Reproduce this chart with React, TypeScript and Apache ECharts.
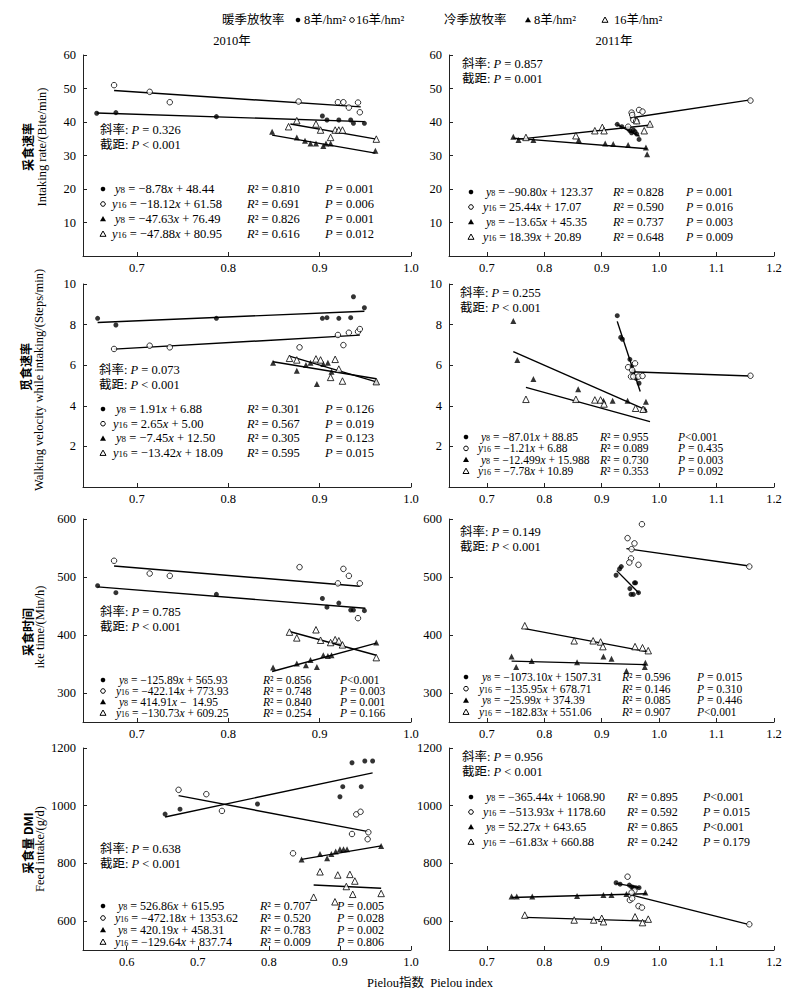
import React, { useEffect, useRef } from "react";
import * as echarts from "echarts";

// ---------- DATA ----------
// Intaking rate 2010
const rate10W8 = [[0.656,42.6],[0.677,42.8],[0.787,41.6],[0.903,41.8],[0.908,40.6],[0.921,40.6],[0.934,40.6],[0.937,39.6],[0.949,39.6]];
const rate10W16 = [[0.675,51.0],[0.714,49.0],[0.736,45.9],[0.877,46.1],[0.920,45.9],[0.926,45.9],[0.932,44.3],[0.942,45.8],[0.944,42.9]];
const rate10C8 = [[0.848,37.1],[0.875,35.4],[0.884,34.4],[0.890,33.6],[0.896,33.6],[0.904,32.8],[0.907,33.6],[0.912,33.6],[0.961,31.4]];
const rate10C16 = [[0.866,38.6],[0.875,40.4],[0.896,39.4],[0.901,37.6],[0.912,35.4],[0.917,37.6],[0.921,37.6],[0.925,37.6],[0.962,34.9]];
const rate10Fit = [[0.656,42.7,0.949,40.1],[0.675,49.4,0.945,44.5],[0.848,36.1,0.961,30.7],[0.868,39.4,0.962,34.9]];
const rate10Eq = [["−8.78","+ 48.44","0.810","= 0.001"],["−18.12","+ 61.58","0.691","= 0.006"],["−47.63","+ 76.49","0.826","= 0.001"],["−47.88","+ 80.95","0.616","= 0.012"]];
const rate10Sig = ["= 0.326","< 0.001"];

// Intaking rate 2011
const rate11W8 = [[0.927,39.3],[0.935,38.6],[0.946,38.1],[0.949,37.4],[0.952,36.8],[0.955,37.6],[0.958,37.1],[0.961,36.4],[0.965,34.8]];
const rate11W16 = [[0.946,38.6],[0.952,42.8],[0.953,42.1],[0.955,40.6],[0.960,40.3],[0.965,43.6],[0.971,43.1],[1.159,46.4]];
const rate11C8 = [[0.746,35.6],[0.755,34.6],[0.781,34.6],[0.860,34.6],[0.906,33.6],[0.920,33.4],[0.946,33.1],[0.977,32.4],[0.979,30.4]];
const rate11C16 = [[0.768,35.4],[0.855,35.9],[0.888,37.4],[0.901,38.4],[0.904,37.4],[0.961,40.4],[0.974,37.4],[0.984,39.4]];
const rate11Fit = [[0.927,39.2,0.966,35.7],[0.949,41.2,1.159,46.6],[0.746,35.2,0.979,32.0],[0.752,34.8,0.986,39.1]];
const rate11Eq = [["−90.80","+ 123.37","0.828","= 0.001"],["25.44","+ 17.07","0.590","= 0.016"],["−13.65","+ 45.35","0.737","= 0.003"],["18.39","+ 20.89","0.648","= 0.009"]];
const rate11Sig = ["= 0.857","= 0.001"];

// Walking velocity 2010
const walk10W8 = [[0.657,8.31],[0.677,7.98],[0.787,8.31],[0.903,8.31],[0.908,8.34],[0.921,8.31],[0.934,8.34],[0.937,9.37],[0.949,8.83]];
const walk10W16 = [[0.675,6.80],[0.714,6.96],[0.736,6.88],[0.878,6.88],[0.920,7.49],[0.926,6.99],[0.932,7.60],[0.942,7.65],[0.944,7.78]];
const walk10C8 = [[0.849,6.12],[0.875,5.73],[0.885,6.01],[0.890,6.12],[0.897,5.07],[0.904,6.06],[0.909,6.12],[0.913,5.68],[0.962,5.19]];
const walk10C16 = [[0.867,6.34],[0.875,6.26],[0.896,6.31],[0.901,6.26],[0.912,5.40],[0.917,6.29],[0.921,5.81],[0.925,5.22],[0.962,5.19]];
const walk10Fit = [[0.657,8.10,0.949,8.66],[0.675,6.79,0.944,7.48],[0.849,6.17,0.962,5.33],[0.867,6.45,0.962,5.18]];
const walk10Eq = [["1.91","+ 6.88","0.301","= 0.126"],["2.65","+ 5.00","0.567","= 0.019"],["−7.45","+ 12.50","0.305","= 0.123"],["−13.42","+ 18.09","0.595","= 0.015"]];
const walk10Sig = ["= 0.073","< 0.001"];

// Walking velocity 2011
const walk11W8 = [[0.927,8.44],[0.933,7.37],[0.936,7.28],[0.949,6.29],[0.952,5.93],[0.955,5.68],[0.960,5.35],[0.965,5.11]];
const walk11W16 = [[0.946,5.90],[0.951,5.44],[0.953,5.76],[0.955,5.44],[0.958,6.09],[0.964,5.44],[0.971,5.47],[1.159,5.48]];
const walk11C8 = [[0.746,8.18],[0.753,6.26],[0.781,5.32],[0.859,4.81],[0.903,4.25],[0.919,4.25],[0.945,4.25],[0.977,4.20],[0.975,3.83]];
const walk11C16 = [[0.768,4.32],[0.855,4.32],[0.888,4.29],[0.898,4.29],[0.904,4.09],[0.959,3.88],[0.972,3.83]];
const walk11Fit = [[0.927,8.16,0.967,4.70],[0.949,5.68,1.159,5.47],[0.746,6.67,0.978,3.79],[0.768,4.91,0.984,3.22]];
const walk11Eq = [["−87.01","+ 88.85","0.955","<0.001"],["−1.21","+ 6.88","0.089","= 0.435"],["−12.499","+ 15.988","0.730","= 0.003"],["−7.78","+ 10.89","0.353","= 0.092"]];
const walk11Sig = ["= 0.255","< 0.001"];

// Intake time 2010
const time10W8 = [[0.657,485],[0.677,473],[0.787,470],[0.903,463],[0.908,448],[0.921,455],[0.934,443],[0.937,443],[0.949,442]];
const time10W16 = [[0.675,528],[0.714,506],[0.736,502],[0.878,517],[0.920,489],[0.926,514],[0.932,502],[0.942,429],[0.944,489]];
const time10C8 = [[0.849,344],[0.875,351],[0.885,348],[0.890,357],[0.897,345],[0.904,365],[0.909,364],[0.913,365],[0.962,387]];
const time10C16 = [[0.867,405],[0.875,395],[0.896,409],[0.901,391],[0.912,387],[0.917,392],[0.921,390],[0.925,383],[0.962,361]];
const time10Fit = [[0.657,483,0.950,446],[0.675,519,0.944,484],[0.848,337,0.962,386],[0.867,406,0.962,365]];
const time10Eq = [["−125.89","+ 565.93","0.856","<0.001"],["−422.14","+ 773.93","0.748","= 0.003"],["414.91","−  14.95","0.840","= 0.001"],["−130.73","+ 609.25","0.254","= 0.166"]];
const time10Sig = ["= 0.785","< 0.001"];

// Intake time 2011
const time11W8 = [[0.925,503],[0.931,514],[0.934,518],[0.949,480],[0.951,470],[0.955,470],[0.957,490],[0.959,490],[0.964,473]];
const time11W16 = [[0.945,567],[0.970,591],[0.957,558],[0.952,548],[0.951,532],[0.948,525],[0.964,521],[1.157,518]];
const time11C8 = [[0.743,363],[0.751,345],[0.778,355],[0.857,353],[0.903,363],[0.917,359],[0.943,338],[0.976,352],[0.975,345]];
const time11C16 = [[0.766,416],[0.852,390],[0.885,390],[0.898,388],[0.902,380],[0.958,380],[0.971,378],[0.981,373]];
const time11Fit = [[0.926,511,0.965,472],[0.943,549,1.157,519],[0.743,355,0.977,349],[0.766,411,0.981,371]];
const time11Eq = [["−1073.10","+ 1507.31","0.596","= 0.015"],["−135.95","+ 678.71","0.146","= 0.310"],["−25.99","+ 374.39","0.085","= 0.446"],["−182.83","+ 551.06","0.907","<0.001"]];
const time11Sig = ["= 0.149","< 0.001"];

// Feed intake 2010
const feed10W8 = [[0.654,971],[0.675,988],[0.784,1006],[0.900,1031],[0.904,1066],[0.917,1149],[0.930,1066],[0.935,1155],[0.946,1155]];
const feed10W16 = [[0.673,1055],[0.712,1040],[0.734,982],[0.834,835],[0.917,902],[0.923,970],[0.929,979],[0.939,884],[0.940,908]];
const feed10C8 = [[0.846,814],[0.872,833],[0.882,818],[0.888,833],[0.894,841],[0.900,849],[0.905,849],[0.910,849],[0.958,860]];
const feed10C16 = [[0.863,683],[0.872,771],[0.893,667],[0.897,760],[0.909,720],[0.914,762],[0.921,739],[0.918,693],[0.958,696]];
const feed10Fit = [[0.654,961,0.946,1114],[0.673,1035,0.940,910],[0.846,814,0.958,861],[0.863,725,0.958,714]];
const feed10Eq = [["526.86","+ 615.95","0.707","= 0.005"],["−472.18","+ 1353.62","0.520","= 0.028"],["420.19","+ 458.31","0.783","= 0.002"],["−129.64","+ 837.74","0.009","= 0.806"]];
const feed10Sig = ["= 0.638","< 0.001"];

// Feed intake 2011
const feed11W8 = [[0.925,733],[0.932,728],[0.948,725],[0.952,719],[0.955,717],[0.959,716],[0.965,716]];
const feed11W16 = [[0.945,754],[0.957,706],[0.952,699],[0.949,673],[0.953,679],[0.964,652],[0.970,647],[1.157,589]];
const feed11C8 = [[0.743,685],[0.752,685],[0.779,685],[0.857,687],[0.903,691],[0.917,691],[0.943,694],[0.976,699]];
const feed11C16 = [[0.766,621],[0.852,604],[0.886,604],[0.900,610],[0.903,598],[0.958,615],[0.971,595],[0.981,607]];
const feed11Fit = [[0.925,731,0.966,716],[0.949,692,1.157,588],[0.743,682,0.978,695],[0.766,613,0.981,600]];
const feed11Eq = [["−365.44","+ 1068.90","0.895","<0.001"],["−513.93","+ 1178.60","0.592","= 0.015"],["52.27","+ 643.65","0.865","<0.001"],["−61.83","+ 660.88","0.242","= 0.179"]];
const feed11Sig = ["= 0.956","< 0.001"];

const xTicksLeft = [0.7, 0.8, 0.9, 1.0];
const xTicksLeft4 = [0.6, 0.7, 0.8, 0.9, 1.0];
const xTicksRight = [0.7, 0.8, 0.9, 1.0, 1.1, 1.2];
const yTicksRate = [10, 20, 30, 40, 50, 60];
const yTicksWalk = [2, 4, 6, 8, 10];
const yTicksTime = [300, 400, 500, 600];
const yTicksFeed = [600, 800, 1000, 1200];
const subs = ["8", "16", "8", "16"];
const yTitles = [
  ["采食速率", "Intaking rate/(Bite/min)"],
  ["觅食速率", "Walking velocity while intaking/(Steps/min)"],
  ["采食时间", "ıke time/(Min/h)"],
  ["采食量 DMI", "Feed intake/(g/d)"],
];

// ---------- LAYOUT ----------
const SERIF = "'Liberation Serif','Times New Roman','Noto Sans CJK SC',serif";
const CJK = "'Noto Sans CJK SC',sans-serif";

const panels = [
  { left: 83, top: 55, width: 328, height: 201, xmin: 0.641, xmax: 1.0, xt: xTicksLeft, ymin: 0, ymax: 60, yt: yTicksRate,
    pts: [rate10W8, rate10W16, rate10C8, rate10C16], fit: rate10Fit, eq: rate10Eq, sig: rate10Sig, fs: 12.5,
    ann: [100, 130], rows: [189, 15], cols: [103, 112, 247, 325] },
  { left: 449, top: 55, width: 325, height: 201, xmin: 0.634, xmax: 1.2, xt: xTicksRight, ymin: 0, ymax: 60, yt: yTicksRate,
    pts: [rate11W8, rate11W16, rate11C8, rate11C16], fit: rate11Fit, eq: rate11Eq, sig: rate11Sig, fs: 12,
    ann: [462, 64], rows: [192, 15], cols: [471, 483, 613, 686] },
  { left: 83, top: 284, width: 328, height: 203, xmin: 0.641, xmax: 1.0, xt: xTicksLeft, ymin: 0, ymax: 10, yt: yTicksWalk,
    pts: [walk10W8, walk10W16, walk10C8, walk10C16], fit: walk10Fit, eq: walk10Eq, sig: walk10Sig, fs: 12.5,
    ann: [99, 370], rows: [409, 14.7], cols: [103, 113, 247, 325] },
  { left: 449, top: 284, width: 325, height: 203, xmin: 0.634, xmax: 1.2, xt: xTicksRight, ymin: 0, ymax: 10, yt: yTicksWalk,
    pts: [walk11W8, walk11W16, walk11C8, walk11C16], fit: walk11Fit, eq: walk11Eq, sig: walk11Sig, fs: 11.5,
    ann: [460, 293], rows: [437, 11.4], cols: [466, 478, 600, 678] },
  { left: 83, top: 519, width: 328, height: 203, xmin: 0.641, xmax: 1.0, xt: xTicksLeft, ymin: 250, ymax: 600, yt: yTicksTime,
    pts: [time10W8, time10W16, time10C8, time10C16], fit: time10Fit, eq: time10Eq, sig: time10Sig, fs: 11.5,
    ann: [100, 612], rows: [680, 11], cols: [103, 116, 263, 340] },
  { left: 449, top: 519, width: 325, height: 203, xmin: 0.634, xmax: 1.2, xt: xTicksRight, ymin: 250, ymax: 600, yt: yTicksTime,
    pts: [time11W8, time11W16, time11C8, time11C16], fit: time11Fit, eq: time11Eq, sig: time11Sig, fs: 11.5,
    ann: [460, 532], rows: [677, 11.7], cols: [466, 479, 622, 697] },
  { left: 83, top: 748, width: 328, height: 202, xmin: 0.5385, xmax: 1.0, xt: xTicksLeft4, ymin: 500, ymax: 1200, yt: yTicksFeed,
    pts: [feed10W8, feed10W16, feed10C8, feed10C16], fit: feed10Fit, eq: feed10Eq, sig: feed10Sig, fs: 12,
    ann: [100, 849], rows: [906, 12], cols: [103, 115, 260, 337] },
  { left: 449, top: 748, width: 325, height: 202, xmin: 0.634, xmax: 1.2, xt: xTicksRight, ymin: 500, ymax: 1200, yt: yTicksFeed,
    pts: [feed11W8, feed11W16, feed11C8, feed11C16], fit: feed11Fit, eq: feed11Eq, sig: feed11Sig, fs: 12,
    ann: [462, 757], rows: [797, 15], cols: [471, 483, 627, 703] },
];
const yTitlePos = [
  [27.5, 147, 41.5, 147],
  [25, 367, 38.5, 380],
  [27, 632, 40, 627],
  [27, 843, 39.5, 849],
];

function makeRich(fs: number): any {
  const s = Math.round(fs * 0.7);
  return {
    i: { fontFamily: SERIF, fontSize: fs, fontStyle: "italic", lineHeight: 11, fill: "#000" },
    sub: { fontFamily: SERIF, fontSize: s, verticalAlign: "bottom", lineHeight: 5, fill: "#000" },
  };
}

const symbolStyles = [
  { symbol: "circle", symbolSize: 5, itemStyle: { color: "#000" } },
  { symbol: "circle", symbolSize: 5.5, itemStyle: { color: "#fff", borderColor: "#000", borderWidth: 1 } },
  { symbol: "triangle", symbolSize: 6, itemStyle: { color: "#000" } },
  { symbol: "triangle", symbolSize: 6.5, itemStyle: { color: "#fff", borderColor: "#000", borderWidth: 1 } },
];

function buildOption() {
  const grid: any[] = [], xAxis: any[] = [], yAxis: any[] = [], series: any[] = [], graphic: any[] = [];
  const txt = (x: number, y: number, text: string, fs = 13, extra: any = {}) => {
    graphic.push({
      type: "text", x, y, silent: true,
      style: {
        text, fill: "#000", font: `${fs}px ${SERIF}`, lineHeight: 11,
        textAlign: "left", align: "left", textVerticalAlign: "middle", verticalAlign: "middle",
        rich: makeRich(fs), ...extra,
      },
    });
  };
  const marker = (k: number, x: number, y: number) => {
    if (k < 2) {
      graphic.push({ type: "circle", silent: true, shape: { cx: x, cy: y, r: 2.3 },
        style: k === 0 ? { fill: "#000" } : { fill: "#fff", stroke: "#000", lineWidth: 1 } });
    } else {
      graphic.push({ type: "polygon", silent: true, shape: { points: [[x, y - 3], [x - 3, y + 2.3], [x + 3, y + 2.3]] },
        style: k === 2 ? { fill: "#000" } : { fill: "#fff", stroke: "#000", lineWidth: 1 } });
    }
  };
  const axisCommon = {
    axisLine: { show: true, onZero: false, lineStyle: { color: "#222", width: 1 } },
    splitLine: { show: false },
  };
  panels.forEach((p, k) => {
    grid.push({ left: p.left, top: p.top, width: p.width, height: p.height, containLabel: false });
    xAxis.push({
      gridIndex: k, type: "value", min: p.xmin, max: p.xmax, ...axisCommon,
      axisTick: { show: true, inside: true, length: 4, customValues: p.xt, lineStyle: { color: "#222" } },
      axisLabel: { customValues: p.xt, formatter: (v: number) => v.toFixed(1), color: "#000", fontFamily: SERIF, fontSize: 12.5, margin: 6 },
    });
    yAxis.push({
      gridIndex: k, type: "value", min: p.ymin, max: p.ymax, ...axisCommon,
      axisTick: { show: true, inside: true, length: 4, customValues: p.yt, lineStyle: { color: "#222" } },
      axisLabel: { customValues: p.yt, formatter: (v: number) => String(v), color: "#000", fontFamily: SERIF, fontSize: 12.5, margin: 7 },
    });
    p.fit.forEach((f) => {
      series.push({
        type: "line", xAxisIndex: k, yAxisIndex: k, data: [[f[0], f[1]], [f[2], f[3]]],
        symbol: "none", showSymbol: false, silent: true, z: 2,
        lineStyle: { color: "#000", width: 1.4 },
      });
    });
    p.pts.forEach((pts, j) => {
      series.push({ type: "scatter", xAxisIndex: k, yAxisIndex: k, data: pts, z: 3, silent: true, ...symbolStyles[j] });
    });
    // annotations
    txt(p.ann[0], p.ann[1], `斜率: {i|P} ${p.sig[0]}`, 12.5);
    txt(p.ann[0], p.ann[1] + 15, `截距: {i|P} ${p.sig[1]}`, 12.5);
    p.eq.forEach((e, j) => {
      const y = p.rows[0] + j * p.rows[1];
      marker(j, p.cols[0], y);
      txt(p.cols[1] + (j % 2 === 0 ? 3 : 0), y, `{i|y}{sub|${subs[j]}} = ${e[0]}{i|x} ${e[1]}`, p.fs);
      txt(p.cols[2], y, `{i|R}² = ${e[2]}`, p.fs);
      txt(p.cols[3], y, e[3].startsWith("<") ? `{i|P}${e[3]}` : `{i|P} ${e[3]}`, p.fs);
    });
  });
  // y-axis titles
  yTitles.forEach((t, r) => {
    const pos = yTitlePos[r];
    graphic.push({ type: "text", x: pos[0], y: pos[1], rotation: Math.PI / 2, silent: true,
      style: { text: t[0], fill: "#000", font: `bold 12px ${CJK}`, textAlign: "center", align: "center", textVerticalAlign: "middle", verticalAlign: "middle" } });
    graphic.push({ type: "text", x: pos[2], y: pos[3], rotation: Math.PI / 2, silent: true,
      style: { text: t[1], fill: "#000", font: `12.5px ${SERIF}`, textAlign: "center", align: "center", textVerticalAlign: "middle", verticalAlign: "middle" } });
  });
  // top legend
  txt(222, 20, "暖季放牧率", 12.5);
  marker(0, 298, 20);
  txt(304, 20, "8羊/hm²", 12.5);
  marker(1, 352, 20);
  txt(356, 20, "16羊/hm²", 12.5);
  txt(444, 20, "冷季放牧率", 12.5);
  marker(2, 528, 20);
  txt(534, 20, "8羊/hm²", 12.5);
  marker(3, 605, 20);
  txt(614, 20, "16羊/hm²", 12.5);
  txt(232, 41, "2010年", 12.5, { textAlign: "center", align: "center" });
  txt(614, 41, "2011年", 12.5, { textAlign: "center", align: "center" });
  txt(367, 983, "Pielou指数  Pielou index", 12.5);

  return {
    animation: false,
    backgroundColor: "#fff",
    grid, xAxis, yAxis, series, graphic,
  };
}

export default function App() {
  const ref = useRef<HTMLDivElement>(null);
  useEffect(() => {
    if (!ref.current) return;
    const chart = echarts.init(ref.current, undefined, { renderer: "svg" });
    chart.setOption(buildOption() as any);
    return () => chart.dispose();
  }, []);
  return (
    <div
      ref={ref}
      style={{ position: "fixed", left: 0, top: 0, width: 800, height: 1002, background: "#fff" }}
    />
  );
}
